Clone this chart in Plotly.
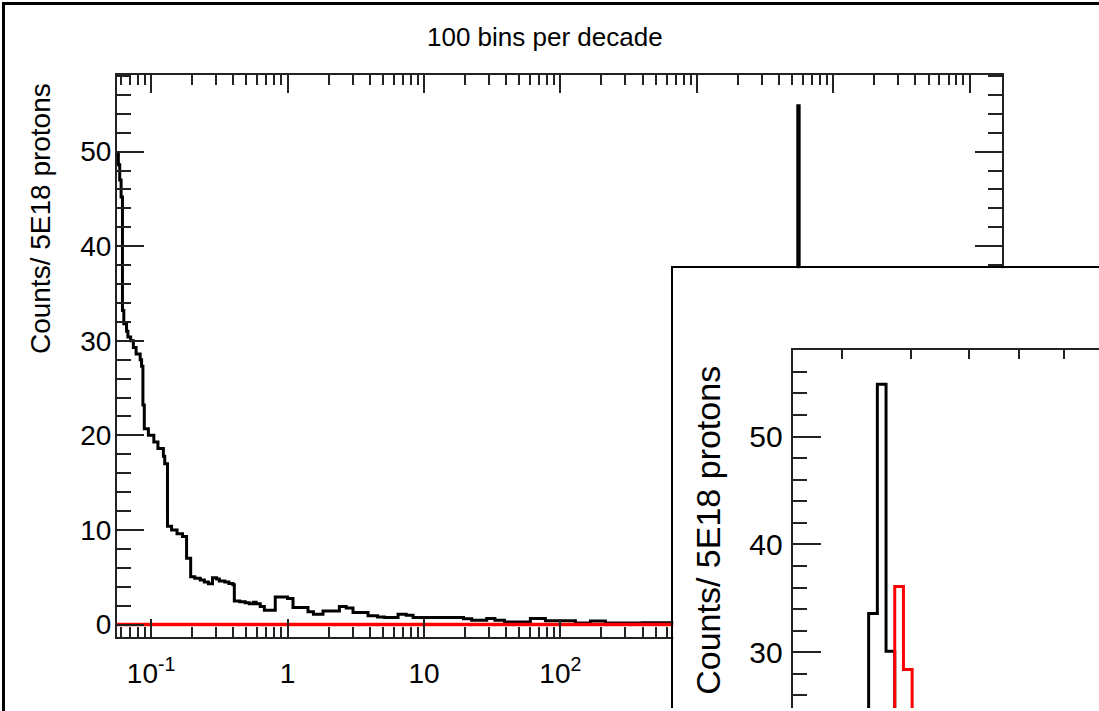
import plotly.graph_objects as go

# ---------------- data ----------------
# black histogram: left bin edges in log10(x) and counts starting at each edge
black_edges_log = [-1.25, -1.24, -1.23, -1.22, -1.21, -1.20, -1.18, -1.17, -1.15, -1.13,
                   -1.11, -1.08, -1.07, -1.06, -1.05, -1.02, -0.98, -0.95, -0.91, -0.90,
                   -0.88, -0.85, -0.81, -0.77, -0.74, -0.71, -0.68, -0.64, -0.61, -0.58,
                   -0.55, -0.52, -0.50, -0.46, -0.43, -0.40, -0.39, -0.35, -0.31, -0.28,
                   -0.25, -0.23, -0.20, -0.17, -0.09, 0.00, 0.04, 0.15, 0.19, 0.26,
                   0.38, 0.43, 0.48, 0.59, 0.66, 0.71, 0.81, 0.87, 0.92, 1.29,
                   1.35, 1.46, 1.52, 1.59, 1.78, 1.89, 2.11, 2.22, 2.33, 2.60,
                   3.00, 3.40, 3.73, 3.74, 3.75, 3.76, 3.77, 3.78, 4.30]
black_counts = [49.9, 48.6, 47.0, 45.2, 33.2, 31.8, 31.0, 30.4, 30.0, 29.3,
                28.6, 28.0, 27.3, 23.2, 20.7, 20.0, 19.3, 18.6, 17.8, 17.0,
                10.4, 10.0, 9.6, 9.3, 7.0, 5.05, 4.9, 4.7, 4.5, 4.3,
                4.95, 4.8, 4.6, 4.5, 4.35, 4.2, 2.5, 2.4, 2.3, 2.2,
                2.35, 2.2, 1.9, 1.5, 2.9, 2.75, 1.8, 1.35, 1.08, 1.44,
                1.9, 1.75, 1.26, 0.92, 0.8, 0.74, 1.08, 0.98, 0.74, 0.6,
                0.45, 0.63, 0.45, 0.28, 0.63, 0.39, 0.15, 0.36, 0.15, 0.2,
                0.25, 0.15, 33.6, 54.85, 30.1, 14.0, 3.5, 0.3, 0.1]
black_end_log = 5.25

# red histogram
red_edges_log = [-1.25, 3.75, 3.76, 3.77, 3.78, 3.79]
red_counts = [0.0, 8.0, 36.1, 28.4, 12.0, 0.0]
red_end_log = 5.25

# tick labels
x_major_vals = [0.1, 1, 10, 100, 1000, 10000, 100000]
x_major_text = ["10<sup>-1</sup>", "1", "10", "10<sup>2</sup>", "10<sup>3</sup>",
                "10<sup>4</sup>", "10<sup>5</sup>"]
y_major_vals = [0, 10, 20, 30, 40, 50]
inset_x_ticks = [5000, 6000, 7000, 8000, 9000]
inset_y_major = [30, 40, 50]

title_text = "100 bins per decade"
y_title = "Counts/ 5E18 protons"

# ---------------- helpers ----------------
def step_xy(edges_log, counts, end_log):
    xs = [10 ** e for e in edges_log] + [10 ** end_log]
    ys = list(counts) + [counts[-1]]
    return xs, ys

bx, by = step_xy(black_edges_log, black_counts, black_end_log)
rx, ry = step_xy(red_edges_log, red_counts, red_end_log)

minor_x = [m * 10 ** d for d in range(-2, 6) for m in range(2, 10)]

W, H = 1099, 711
def fx(px):
    return px / W
def fy(py):
    return 1 - py / H

FONT = "Liberation Sans, Arial, Helvetica, sans-serif"
AX = "#222222"

fig = go.Figure()

# main plot
fig.add_trace(go.Scatter(x=bx, y=by, mode="lines", line=dict(color="black", width=3, shape="hv"),
                         xaxis="x", yaxis="y", showlegend=False, hoverinfo="skip"))
fig.add_trace(go.Scatter(x=rx, y=ry, mode="lines", line=dict(color="#ff0000", width=3.5, shape="hv"),
                         xaxis="x", yaxis="y", showlegend=False, hoverinfo="skip"))
# inset frame (empty subplot)
fig.add_trace(go.Scatter(x=[], y=[], xaxis="x2", yaxis="y2", showlegend=False))
# inset plot
fig.add_trace(go.Scatter(x=bx, y=by, mode="lines", line=dict(color="black", width=3, shape="hv"),
                         xaxis="x3", yaxis="y3", showlegend=False, hoverinfo="skip"))
fig.add_trace(go.Scatter(x=rx, y=ry, mode="lines", line=dict(color="#ff0000", width=3, shape="hv"),
                         xaxis="x3", yaxis="y3", showlegend=False, hoverinfo="skip"))

fig.update_layout(
    width=W, height=H, autosize=False,
    margin=dict(l=0, r=0, t=0, b=0),
    paper_bgcolor="white", plot_bgcolor="white",
    font=dict(family=FONT, color="black"),
    xaxis=dict(
        type="log", range=[-1.25, 5.2346], domain=[fx(117), fx(1001.7)], anchor="y",
        showline=True, linecolor=AX, linewidth=2, mirror="allticks",
        ticks="inside", ticklen=18, tickwidth=1.5, tickcolor=AX,
        tickmode="array", tickvals=x_major_vals, ticktext=x_major_text,
        tickfont=dict(size=28), ticklabelstandoff=10,
        showgrid=False, zeroline=False,
        minor=dict(tickmode="array", tickvals=minor_x, ticks="inside", ticklen=10,
                   tickwidth=1.5, tickcolor=AX, showgrid=False),
    ),
    yaxis=dict(
        range=[-1.35, 58.13], domain=[fy(640), fy(75)], anchor="x",
        showline=True, linecolor=AX, linewidth=2, mirror="allticks",
        ticks="inside", ticklen=27, tickwidth=1.5, tickcolor=AX,
        tickmode="array", tickvals=y_major_vals,
        tickfont=dict(size=28), ticklabelstandoff=-2,
        showgrid=False, zeroline=False,
        minor=dict(tickmode="linear", tick0=0, dtick=2, ticks="inside", ticklen=14,
                   tickwidth=1.5, tickcolor=AX, showgrid=False),
    ),
    xaxis2=dict(
        range=[0, 1], domain=[fx(673.3), 1], anchor="y2", side="top",
        showline=True, linecolor="black", linewidth=2, ticks="", showticklabels=False,
        showgrid=False, zeroline=False, fixedrange=True,
    ),
    yaxis2=dict(
        range=[0, 1], domain=[0, fy(269.3)], anchor="x2",
        showline=True, linecolor="black", linewidth=2, ticks="", showticklabels=False,
        showgrid=False, zeroline=False, fixedrange=True,
    ),
    xaxis3=dict(
        type="log", range=[3.6427, 3.9948], domain=[fx(792.7), 1], anchor="y3", side="top",
        showline=True, linecolor=AX, linewidth=2,
        ticks="inside", ticklen=9, tickwidth=1.5, tickcolor=AX,
        tickmode="array", tickvals=inset_x_ticks, showticklabels=False,
        showgrid=False, zeroline=False,
    ),
    yaxis3=dict(
        range=[24.83, 58.07], domain=[0, fy(351)], anchor="x3",
        showline=True, linecolor=AX, linewidth=2,
        ticks="inside", ticklen=28, tickwidth=1.5, tickcolor=AX,
        tickmode="array", tickvals=inset_y_major,
        tickfont=dict(size=30), ticklabelstandoff=2,
        showgrid=False, zeroline=False,
        minor=dict(tickmode="linear", tick0=0, dtick=2, ticks="inside", ticklen=14,
                   tickwidth=1.5, tickcolor=AX, showgrid=False),
    ),
    annotations=[
        dict(text=title_text, x=fx(545), y=fy(37), xref="paper", yref="paper",
             xanchor="center", yanchor="middle", showarrow=False, font=dict(size=26)),
        dict(text=y_title, x=fx(40), y=fy(220), xref="paper", yref="paper",
             xanchor="center", yanchor="middle", textangle=-90, showarrow=False,
             font=dict(size=28)),
        dict(text=y_title, x=fx(708), y=fy(533), xref="paper", yref="paper",
             xanchor="center", yanchor="middle", textangle=-90, showarrow=False,
             font=dict(size=34)),
    ],
    shapes=[
        dict(type="rect", xref="paper", yref="paper", x0=fx(3.5), x1=1.2, y0=-0.2, y1=fy(3.5),
             line=dict(color="black", width=3), fillcolor="rgba(0,0,0,0)", layer="above"),
    ],
)

fig.write_html("out.html")
